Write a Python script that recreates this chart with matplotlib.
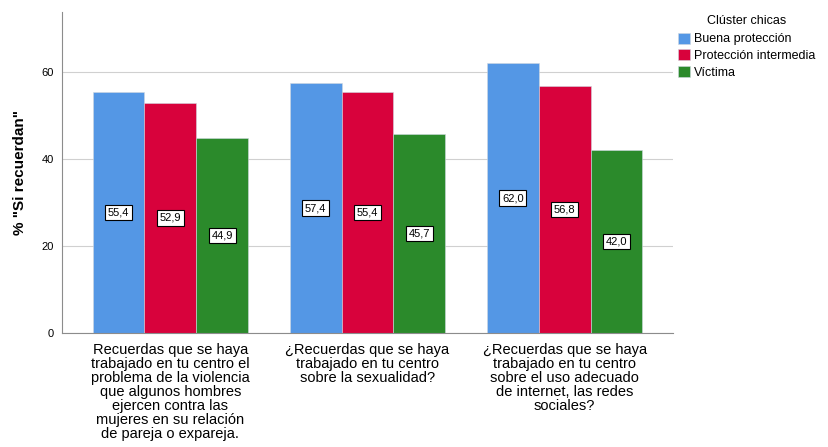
import matplotlib.pyplot as plt
import numpy as np

plt.rcParams['font.family'] = ['Liberation Sans', 'DejaVu Sans']

categorias = ['Recuerdas que se haya\ntrabajado en tu centro el\nproblema de la violencia\nque algunos hombres\nejercen contra las\nmujeres en su relación\nde pareja o expareja.',
              '¿Recuerdas que se haya\ntrabajado en tu centro\nsobre la sexualidad?',
              '¿Recuerdas que se haya\ntrabajado en tu centro\nsobre el uso adecuado\nde internet, las redes\nsociales?']
series = ['Buena protección', 'Protección intermedia', 'Víctima']
buena = [55.4, 57.4, 62.0]
intermedia = [52.9, 55.4, 56.8]
victima = [44.9, 45.7, 42.0]
colores = ['#5497e5', '#d8023c', '#2b8a2b']

fig = plt.figure(figsize=(8.29, 4.47), dpi=100)
ax = fig.add_axes([62/829, 1-333/447, 611/829, 321/447])

x = np.arange(len(categorias))
w = 0.263
for i, (vals, nombre) in enumerate(zip([buena, intermedia, victima], series)):
    pos = x + (i - 1) * w
    ax.bar(pos, vals, w, color=colores[i], label=nombre, edgecolor='#cfd8e0', linewidth=0.4, zorder=2)
    for p, v in zip(pos, vals):
        ax.text(p, v / 2, f'{v:.1f}'.replace('.', ','), ha='center', va='center', fontsize=8,
                bbox=dict(boxstyle='square,pad=0.25', fc='white', ec='black', lw=0.8), zorder=3)

ax.set_xlim(-0.55, 2.55)
ax.set_ylim(0, 73.8)
ax.set_yticks([0, 20, 40, 60])
ax.yaxis.grid(True, color='#d0d0d0', linewidth=0.8, zorder=0)
ax.set_xticks(x)
ax.set_xticklabels(categorias, fontsize=10.5, linespacing=1.0, va='top')
ax.tick_params(axis='x', length=0, pad=7)
ax.tick_params(axis='y', length=0, labelsize=8, pad=6)
for s in ['top', 'right']:
    ax.spines[s].set_visible(False)
for s in ['left', 'bottom']:
    ax.spines[s].set_color('#8c8c8c')
ax.set_ylabel('% "Si recuerdan"', fontsize=11, fontweight='bold', labelpad=10)

leg = fig.legend(loc='upper left', bbox_to_anchor=(673/829, 1-10/447), title='Clúster chicas',
                 frameon=False, fontsize=9, title_fontsize=9, handlelength=1.0, handleheight=1.0,
                 handletextpad=0.3, labelspacing=0.3, borderaxespad=0)
leg._legend_box.sep = 4

fig.savefig('out.png', dpi=100)
